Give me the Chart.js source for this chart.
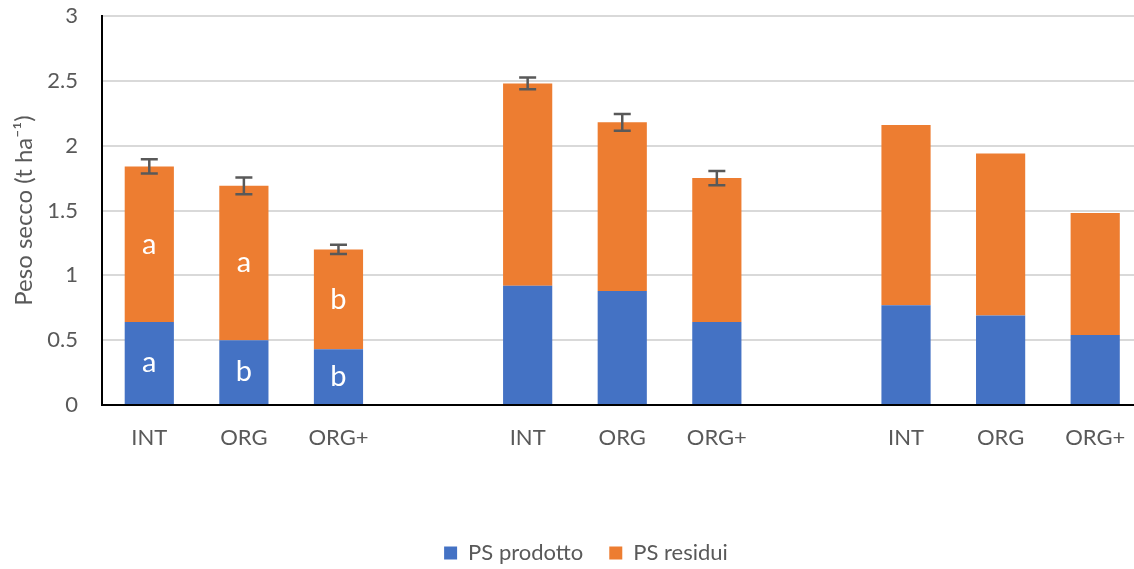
<!DOCTYPE html>
<html>
<head>
<meta charset="utf-8">
<script src="https://cdn.jsdelivr.net/npm/chart.js@4/dist/chart.umd.min.js"></script>
<style>
  html, body { margin: 0; padding: 0; overflow: hidden; background: #fff; }
  canvas { display: block; }
</style>
</head>
<body>
<canvas id="chart" width="1172" height="574"></canvas>
<script>
// Three groups of treatments, separated by an empty slot
const categories = ['INT', 'ORG', 'ORG+', '', 'INT', 'ORG', 'ORG+', '', 'INT', 'ORG', 'ORG+'];
const prodotto = [0.64, 0.50, 0.43, null, 0.92, 0.88, 0.64, null, 0.77, 0.69, 0.54];
const residui  = [1.20, 1.19, 0.77, null, 1.56, 1.30, 1.11, null, 1.39, 1.25, 0.94];
// Error on the total dry weight (prodotto + residui)
const errTotale = [0.055, 0.065, 0.035, null, 0.045, 0.065, 0.055, null, null, null, null];
// Significance letters shown inside each segment
const lettereProdotto = ['a', 'b', 'b', null, null, null, null, null, null, null, null];
const lettereResidui  = ['a', 'a', 'b', null, null, null, null, null, null, null, null];
const yTicks = [0, 0.5, 1, 1.5, 2, 2.5, 3];
const yTickLabels = ['0', '0.5', '1', '1.5', '2', '2.5', '3'];

const FONT = 'Lato';
const GREY = '#595959';
const SIZE = 22;

// Whiskers centred on the top of each stack
const errorBars = {
  id: 'errorBars',
  afterDatasetsDraw(chart) {
    const { ctx } = chart;
    const y = chart.scales.y;
    const meta = chart.getDatasetMeta(1);
    ctx.save();
    ctx.strokeStyle = GREY;
    ctx.lineWidth = 2.5;
    errTotale.forEach((e, i) => {
      if (e == null) return;
      const x = meta.data[i].x;
      const tot = prodotto[i] + residui[i];
      const yTop = y.getPixelForValue(tot + e);
      const yBot = y.getPixelForValue(tot - e);
      const half = 8.5;
      ctx.beginPath();
      ctx.moveTo(x, yTop); ctx.lineTo(x, yBot);
      ctx.moveTo(x - half, yTop); ctx.lineTo(x + half, yTop);
      ctx.moveTo(x - half, yBot); ctx.lineTo(x + half, yBot);
      ctx.stroke();
    });
    ctx.restore();
  }
};

// White letters in the middle of each segment
const segmentLetters = {
  id: 'segmentLetters',
  afterDatasetsDraw(chart) {
    const { ctx } = chart;
    ctx.save();
    ctx.fillStyle = '#ffffff';
    ctx.font = '29px ' + FONT;
    ctx.textAlign = 'center';
    ctx.textBaseline = 'middle';
    [lettereProdotto, lettereResidui].forEach((letters, d) => {
      const meta = chart.getDatasetMeta(d);
      letters.forEach((t, i) => {
        if (!t) return;
        const { x, y, base } = meta.data[i].getProps(['x', 'y', 'base'], true);
        ctx.fillText(t, x, (y + base) / 2);
      });
    });
    ctx.restore();
  }
};

new Chart(document.getElementById('chart'), {
  type: 'bar',
  data: {
    labels: categories,
    datasets: [
      { label: 'PS prodotto', data: prodotto, backgroundColor: '#4472C4',
        categoryPercentage: 1, barPercentage: 0.52 },
      { label: 'PS residui', data: residui, backgroundColor: '#ED7D31',
        categoryPercentage: 1, barPercentage: 0.52 }
    ]
  },
  options: {
    responsive: false,
    animation: false,
    layout: { padding: { top: 16, left: 0, right: 0, bottom: 0 } },
    plugins: {
      tooltip: { enabled: false },
      legend: {
        position: 'bottom',
        labels: {
          boxWidth: 13, boxHeight: 13, padding: 26,
          color: GREY, font: { family: FONT, size: SIZE }
        }
      }
    },
    scales: {
      x: {
        stacked: true,
        grid: { display: false, drawTicks: false },
        border: { display: true, color: '#000000', width: 2 },
        ticks: { color: GREY, font: { family: FONT, size: SIZE }, padding: 20,
                 autoSkip: false, maxRotation: 0 },
        afterFit(s) { s.height = 111; }
      },
      y: {
        stacked: true,
        min: 0, max: 3,
        afterBuildTicks(s) { s.ticks = yTicks.map(v => ({ value: v })); },
        grid: { color: '#D9D9D9', lineWidth: 2, drawTicks: false },
        border: { display: true, color: '#000000', width: 2 },
        ticks: {
          color: GREY, font: { family: FONT, size: SIZE }, padding: 24,
          callback: (v, i) => yTickLabels[i]
        },
        title: {
          display: true, text: 'Peso secco (t ha⁻¹)', color: GREY,
          font: { family: FONT, size: 24 }, padding: { top: 9.5, bottom: 0 }
        },
        afterFit(s) {
          s.width = 102;
          s.paddingTop = 0;
          s.paddingBottom = 0;
        }
      },
      // empty spacer on the right so the plot runs past the visible edge
      spacer: {
        type: 'linear', position: 'right', display: true,
        grid: { display: false }, border: { display: false },
        ticks: { display: false },
        afterFit(s) {
          s.width = 29.5;
          s.paddingTop = 0;
          s.paddingBottom = 0;
        }
      }
    }
  },
  plugins: [errorBars, segmentLetters]
});
</script>
</body>
</html>
